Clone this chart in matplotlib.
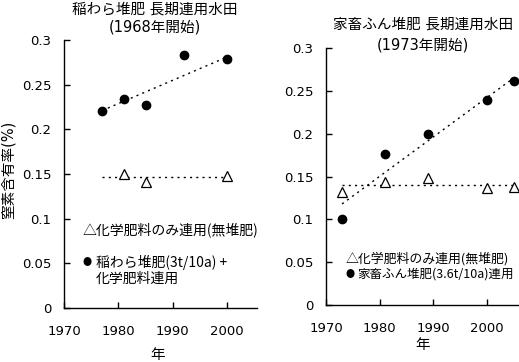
import matplotlib
matplotlib.use('Agg')
import matplotlib.pyplot as plt

plt.rcParams['font.family'] = ['DejaVu Sans', 'Noto Sans CJK JP']

# left panel: rice straw compost (since 1968)
straw_year = [1977, 1981, 1985, 1992, 2000]
straw_n = [0.220, 0.234, 0.227, 0.283, 0.279]
straw_chem_year = [1981, 1985, 2000]
straw_chem_n = [0.150, 0.141, 0.148]
straw_trend_year = [1977, 2000]
straw_trend_n = [0.221, 0.281]
straw_chem_trend_year = [1977, 2000]
straw_chem_trend_n = [0.147, 0.147]

# right panel: livestock manure compost (since 1973)
manure_year = [1973, 1981, 1989, 2000, 2005]
manure_n = [0.100, 0.176, 0.200, 0.239, 0.262]
manure_chem_year = [1973, 1981, 1989, 2000, 2005]
manure_chem_n = [0.132, 0.143, 0.148, 0.136, 0.138]
manure_trend_year = [1973, 2005]
manure_trend_n = [0.118, 0.265]
manure_chem_trend_year = [1973, 2005]
manure_chem_trend_n = [0.140, 0.140]

yticks = [0, 0.05, 0.1, 0.15, 0.2, 0.25, 0.3]
ytick_labels = ['0', '0.05', '0.1', '0.15', '0.2', '0.25', '0.3']
xticks = [1970, 1980, 1990, 2000]

fig = plt.figure(figsize=(5.19, 3.62), dpi=100)
ax1 = fig.add_axes([64/519, 54/362, 193/519, 268/362])
ax2 = fig.add_axes([326/519, 57/362, 193/519, 257/362])


def style(ax, xmax):
    ax.set_xlim(1970, xmax)
    ax.set_ylim(0, 0.3)
    ax.set_xticks(xticks)
    ax.set_xticklabels([str(x) for x in xticks])
    ax.set_yticks(yticks)
    ax.set_yticklabels(ytick_labels)
    for s in ['top', 'right']:
        ax.spines[s].set_visible(False)
    for s in ['left', 'bottom']:
        ax.spines[s].set_linewidth(1.0)
    ax.tick_params(direction='in', length=4, width=1, labelsize=9.5)
    ax.tick_params(axis='y', pad=9)
    ax.tick_params(axis='x', pad=12)


style(ax1, 2005.5)
style(ax2, 2006)

dot = dict(color='black', linestyle=(0, (1.5, 3)), linewidth=1.0)

ax1.plot(straw_trend_year, straw_trend_n, **dot)
ax1.plot(straw_chem_trend_year, straw_chem_trend_n, **dot)
ax1.plot(straw_year, straw_n, 'o', color='black', markersize=6, clip_on=False)
ax1.plot(straw_chem_year, straw_chem_n, '^', markerfacecolor='white',
         markeredgecolor='black', markersize=7.5, markeredgewidth=0.9, clip_on=False)

ax2.plot(manure_trend_year, manure_trend_n, **dot)
ax2.plot(manure_chem_trend_year, manure_chem_trend_n, **dot)
ax2.plot(manure_year, manure_n, 'o', color='black', markersize=6, clip_on=False)
ax2.plot(manure_chem_year, manure_chem_n, '^', markerfacecolor='white',
         markeredgecolor='black', markersize=7.5, markeredgewidth=0.9, clip_on=False)

# titles
fig.text(155/519, 1 - 9/362, '稲わら堆肥 長期連用水田', ha='center', va='center', fontsize=10.5)
fig.text(155/519, 1 - 27/362, '(1968年開始)', ha='center', va='center', fontsize=10.5)
fig.text(423/519, 1 - 24/362, '家畜ふん堆肥 長期連用水田', ha='center', va='center', fontsize=10.5)
fig.text(423/519, 1 - 45/362, '(1973年開始)', ha='center', va='center', fontsize=10.5)

# axis labels
fig.text(8/519, 1 - 170/362, '窒素含有率(%)', rotation=90, ha='center', va='center', fontsize=10.5)
fig.text(158/519, 1 - 354/362, '年', ha='center', va='center', fontsize=10.5)
fig.text(423/519, 1 - 345/362, '年', ha='center', va='center', fontsize=10.5)

# in-plot legends
cjk = ['Noto Sans CJK JP', 'DejaVu Sans']
fig.text(83/519, 1 - 230/362, '△化学肥料のみ連用(無堆肥)', ha='left', va='center',
         fontsize=10, family=cjk)
fig.text(87/519, 1 - 262/362, '●', ha='center', va='center', fontsize=6.5, family=cjk)
fig.text(96/519, 1 - 262/362, '稲わら堆肥(3t/10a) +', ha='left', va='center',
         fontsize=10, family=cjk)
fig.text(96/519, 1 - 279/362, '化学肥料連用', ha='left', va='center', fontsize=10, family=cjk)
fig.text(346/519, 1 - 259/362, '△化学肥料のみ連用(無堆肥)', ha='left', va='center',
         fontsize=9.3, family=cjk)
fig.text(350.5/519, 1 - 274/362, '●', ha='center', va='center', fontsize=6.5, family=cjk)
fig.text(357/519, 1 - 274/362, '家畜ふん堆肥(3.6t/10a)連用', ha='left', va='center',
         fontsize=9, family=cjk)

fig.savefig('out.png', dpi=100)
